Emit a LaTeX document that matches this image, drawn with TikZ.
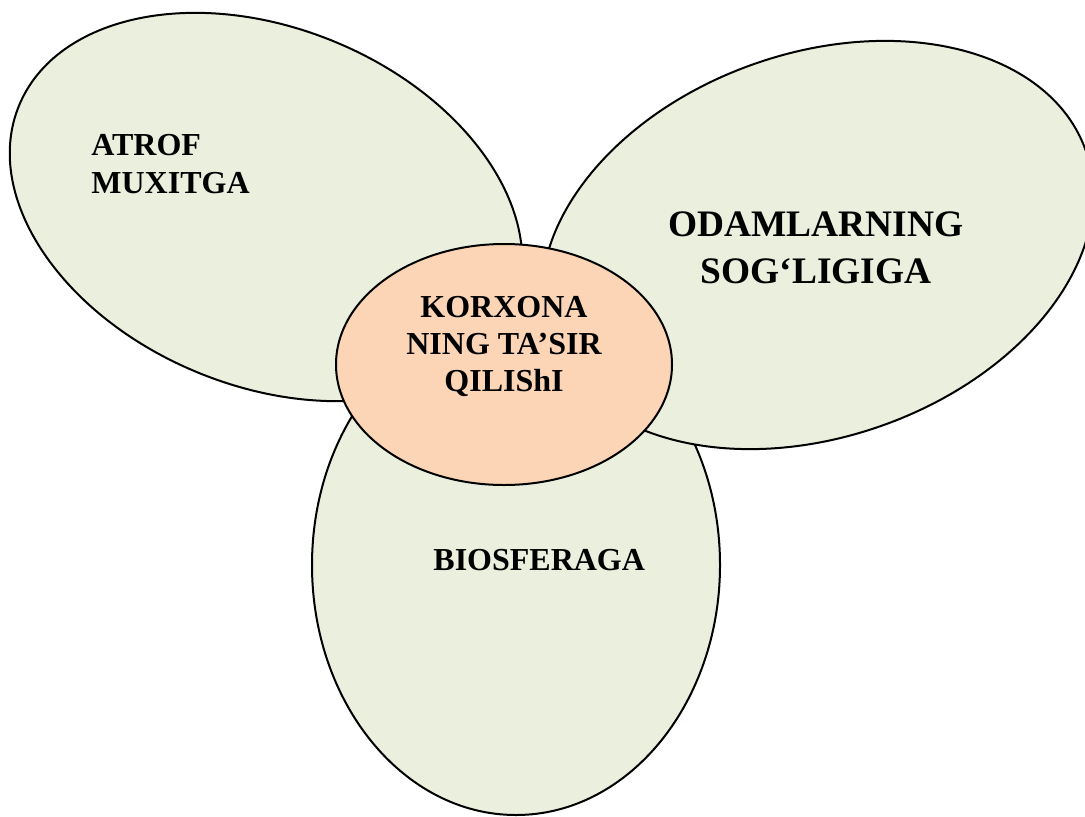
\documentclass[tikz,border=0pt]{standalone}
\usepackage{fontspec}
\setmainfont{Liberation Serif}
\usetikzlibrary{shapes.geometric}
\definecolor{petal}{HTML}{EBF0DE}
\definecolor{core}{HTML}{FBD5B5}
\tikzset{
  blob/.style={ellipse, draw=black, line width=1pt, inner sep=0pt, outer sep=0pt},
  petalshape/.style={blob, fill=petal},
  coreshape/.style={blob, fill=core},
  lbl/.style={inner sep=0pt, font=\bfseries\fontsize{16}{18}\selectfont},
  biglbl/.style={inner sep=0pt, font=\bfseries\fontsize{18.7}{22}\selectfont},
}
\begin{document}
\begin{tikzpicture}
\useasboundingbox (0,0) rectangle (542.5pt,408pt);
\clip (0,0) rectangle (542.5pt,408pt);

% three petals, lowest one first
\node[petalshape, minimum width=204pt, minimum height=250pt] (biosphere) at (258pt,125.5pt) {};
\node[petalshape, minimum width=267pt, minimum height=179pt, rotate=-22.3] (environment) at (133pt,304.5pt) {};
\node[petalshape, minimum width=284.4pt, minimum height=191.8pt, rotate=19.4] (health) at (408.75pt,285.5pt) {};

% centre
\node[coreshape, minimum width=168pt, minimum height=120.5pt] (impact) at (252pt,225.75pt) {};

% labels
\node[lbl, anchor=base west] (envA) at (45.5pt,330.5pt) {ATROF};
\node[lbl, anchor=base west] (envB) at (45.5pt,311.5pt) {MUXITGA};

\node[biglbl, anchor=base] (healthA) at (408pt,289.75pt) {ODAMLARNING};
\node[biglbl, anchor=base] (healthB) at (408pt,266.25pt) {SOG‘LIGIGA};

\node[lbl, anchor=base] (impactA) at (252pt,249.35pt) {KORXONA};
\node[lbl, anchor=base] (impactB) at (252pt,230.85pt) {NING TA’SIR};
\node[lbl, anchor=base] (impactC) at (252pt,212.15pt) {QILIShI};

\node[lbl, anchor=base] (bioA) at (269.6pt,123pt) {BIOSFERAGA};
\end{tikzpicture}
\end{document}
